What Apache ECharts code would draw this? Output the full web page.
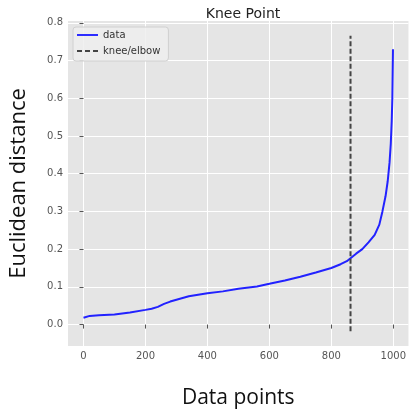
<!DOCTYPE html>
<html><head><meta charset="utf-8">
<script src="https://cdn.jsdelivr.net/npm/echarts@6/dist/echarts.min.js"></script>
<style>html,body{margin:0;padding:0;background:#fff}#c{width:409px;height:414px}</style>
</head><body><div id="c"></div>
<script>
// data
const pointIdx = [0,5,20,50,100,150,200,220,240,260,280,300,340,400,450,500,560,600,650,700,750,800,830,850,862,880,900,920,940,955,965,975,982,988,992,995,997,999];
const distance = [0.018,0.021,0.023,0.025,0.027,0.032,0.039,0.042,0.047,0.055,0.061,0.066,0.075,0.083,0.088,0.095,0.101,0.108,0.117,0.127,0.138,0.150,0.160,0.168,0.176,0.188,0.200,0.218,0.238,0.265,0.300,0.340,0.380,0.430,0.480,0.540,0.600,0.730];
const kneeX = 862;
const kneeYRange = [-0.0176, 0.7656];
const xTicks = [0,200,400,600,800,1000];
const yTicks = [0.0,0.1,0.2,0.3,0.4,0.5,0.6,0.7,0.8];

const chart = echarts.init(document.getElementById('c'), null, {renderer:'canvas'});
const tickColor = '#555';
const solidIcon = 'path://M0,0H22V2H0Z';
const dashIcon = 'path://M0,0H5V2H0Z M8,0H13V2H8Z M16,0H21V2H16Z';
chart.setOption({
  animation:false,
  backgroundColor:'#fff',
  title:{text:'Knee Point', left:238, top:2, textAlign:'center',
    textStyle:{fontFamily:'DejaVu Sans', fontSize:14, fontWeight:'normal', color:'#222'}},
  grid:{left:68, right:-1, top:21, bottom:59, show:true, backgroundColor:'#e5e5e5', borderWidth:0},
  legend:{orient:'vertical', left:73, top:27, itemWidth:21, itemHeight:2, itemGap:4,
    padding:[2,8,4,4], backgroundColor:'rgba(238,238,238,0.85)', borderColor:'#d0d0d0', borderWidth:1, borderRadius:3,
    textStyle:{fontFamily:'DejaVu Sans', fontSize:10, color:'#333', lineHeight:12},
    data:[{name:'data', icon:solidIcon},{name:'knee/elbow', icon:dashIcon}]},
  xAxis:{type:'value', min:-50, max:1049,
    name:'Data points', nameLocation:'middle', nameGap:42,
    nameTextStyle:{fontFamily:'Open Sans', fontSize:21, color:'#111'},
    axisLine:{show:false},
    axisTick:{show:true, length:4, lineStyle:{color:tickColor}, customValues:xTicks},
    axisLabel:{customValues:xTicks, fontFamily:'DejaVu Sans', fontSize:10, color:tickColor, margin:5,
      formatter:v=>String(v)},
    splitLine:{show:true, lineStyle:{color:'#fff', width:1}}},
  yAxis:{type:'value', min:-0.0568, max:0.8048,
    name:'Euclidean distance', nameLocation:'middle', nameGap:38, nameRotate:90,
    nameTextStyle:{fontFamily:'Open Sans', fontSize:22, color:'#111'},
    axisLine:{show:false},
    axisTick:{show:true, length:4, lineStyle:{color:tickColor}, customValues:yTicks},
    axisLabel:{customValues:yTicks, fontFamily:'DejaVu Sans', fontSize:10, color:tickColor, margin:5,
      formatter:v=>v.toFixed(1)},
    splitLine:{show:true, lineStyle:{color:'#fff', width:1}}},
  series:[
    {name:'data', type:'line', symbol:'none', data:pointIdx.map((x,i)=>[x,distance[i]]),
     lineStyle:{color:'#2222ff', width:2}, itemStyle:{color:'#2222ff'}},
    {name:'knee/elbow', type:'line', symbol:'none', data:[[kneeX,kneeYRange[0]],[kneeX,kneeYRange[1]]],
     lineStyle:{color:'#444', width:2, type:[5,2.5]}, itemStyle:{color:'#444'}}
  ]
});
</script></body></html>
